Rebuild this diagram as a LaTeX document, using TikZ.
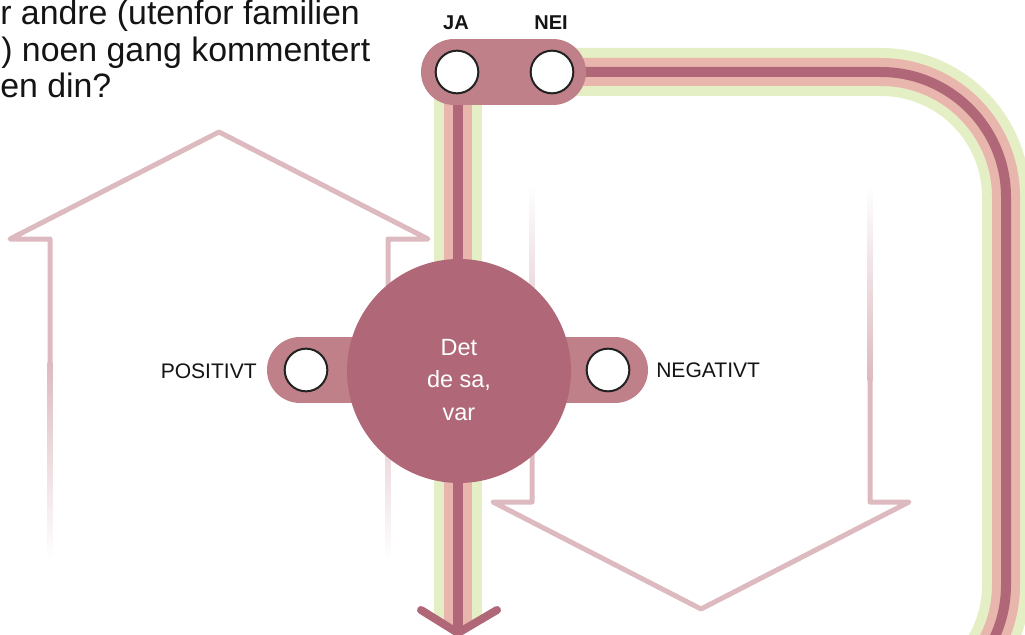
\documentclass[tikz,border=0pt]{standalone}
\usepackage{fontspec}
\setmainfont{Liberation Sans}
\definecolor{arrowcol}{RGB}{220,186,192}
\definecolor{trackgreen}{RGB}{229,239,197}
\definecolor{trackpink}{RGB}{232,182,172}
\definecolor{trackdark}{RGB}{176,104,120}
\definecolor{capcol}{RGB}{192,128,138}
\definecolor{ringcol}{RGB}{34,34,34}
\definecolor{textcol}{RGB}{20,20,20}
\begin{document}
\begin{tikzpicture}[x=0.75pt,y=-0.75pt,
  arrowline/.style={draw=arrowcol, line width=3.75pt, line join=round, line cap=round},
  tracklayerc/.style={draw=trackdark, line width=7.5pt},
  tracklayerb/.style={draw=trackpink, line width=21pt, postaction={tracklayerc}},
  track/.style={draw=trackgreen, line width=36pt, postaction={tracklayerb}},
  capsule/.style={draw=capcol, line width=49.5pt, line cap=round},
  knob/.style={circle, draw=ringcol, line width=1.5pt, fill=white, minimum size=32pt, inner sep=0pt},
  optlabel/.style={font=\fontsize{15.8pt}{18pt}\selectfont, text=textcol, inner sep=0pt},
  toplabel/.style={font=\fontsize{15pt}{18pt}\selectfont\bfseries, text=textcol, inner sep=0pt},
  question/.style={font=\fontsize{25.4pt}{27.5pt}\selectfont, text=textcol, inner sep=0pt, anchor=base west}]
\useasboundingbox (0,0) rectangle (1025,635);
\clip (0,0) rectangle (1025,635);

% faded outline arrows
\draw[arrowline] (50,362) -- (50,239) -- (10,239) -- (219,132) -- (428,239) -- (388,239) -- (388,362);
\shade[top color=arrowcol, bottom color=white] (47.5,362) rectangle (52.5,560);
\shade[top color=arrowcol, bottom color=white] (385.5,362) rectangle (390.5,560);
\draw[arrowline] (532,380) -- (532,502) -- (493,502) -- (701,609) -- (909,502) -- (870,502) -- (870,380);
\shade[top color=white, bottom color=arrowcol] (529.5,185) rectangle (534.5,380);
\shade[top color=white, bottom color=arrowcol] (867.5,185) rectangle (872.5,380);

% node positions
\coordinate (jap) at (457,72);
\coordinate (neip) at (552,72);
\coordinate (tip) at (458,633);
\coordinate (nexit) at (700,710);

% tracks
\begin{scope}
  \clip (0,0) -- (1025,0) -- (1025,610) -- (497,610) -- (458,633) -- (421,610) -- (0,610) -- cycle;
  \path[track] (458,72) -- (tip);
\end{scope}
\path[track, rounded corners=93.75pt] (neip) -- (1006,72) -- (1006,710) -- (nexit);
\draw[trackdark, line width=6pt, line cap=round, line join=round] (421,610) -- (tip) -- (497,610);

% capsules
\draw[capsule] (454,72) -- (553,72);
\draw[capsule] (300,370) -- (420,370);
\draw[capsule] (500,370) -- (615,370);

% hub
\node[circle, fill=trackdark, minimum size=168pt, inner sep=0pt] (hub) at (459,371) {};
\node[text=white, align=center, inner sep=0pt, font=\fontsize{17.6pt}{24.5pt}\selectfont] (hubtext) at (459,380) {Det\\de sa,\\var};

% knobs
\node[knob] (ja) at (jap) {};
\node[knob] (nei) at (neip) {};
\node[knob] (pos) at (306,370) {};
\node[knob] (neg) at (608,370) {};

% labels
\node[toplabel, anchor=base] (jalabel) at (456,30) {JA};
\node[toplabel, anchor=base] (neilabel) at (551,30) {NEI};
\node[optlabel, anchor=base east] (poslabel) at (257,378) {POSITIVT};
\node[optlabel, anchor=base west] (neglabel) at (656,377) {NEGATIVT};

% question
\node[question] (q1) at (0,25) {r andre (utenfor familien};
\node[question] (q2) at (1,62) {) noen gang kommentert};
\node[question] (q3) at (0,98) {en din?};
\end{tikzpicture}
\end{document}
